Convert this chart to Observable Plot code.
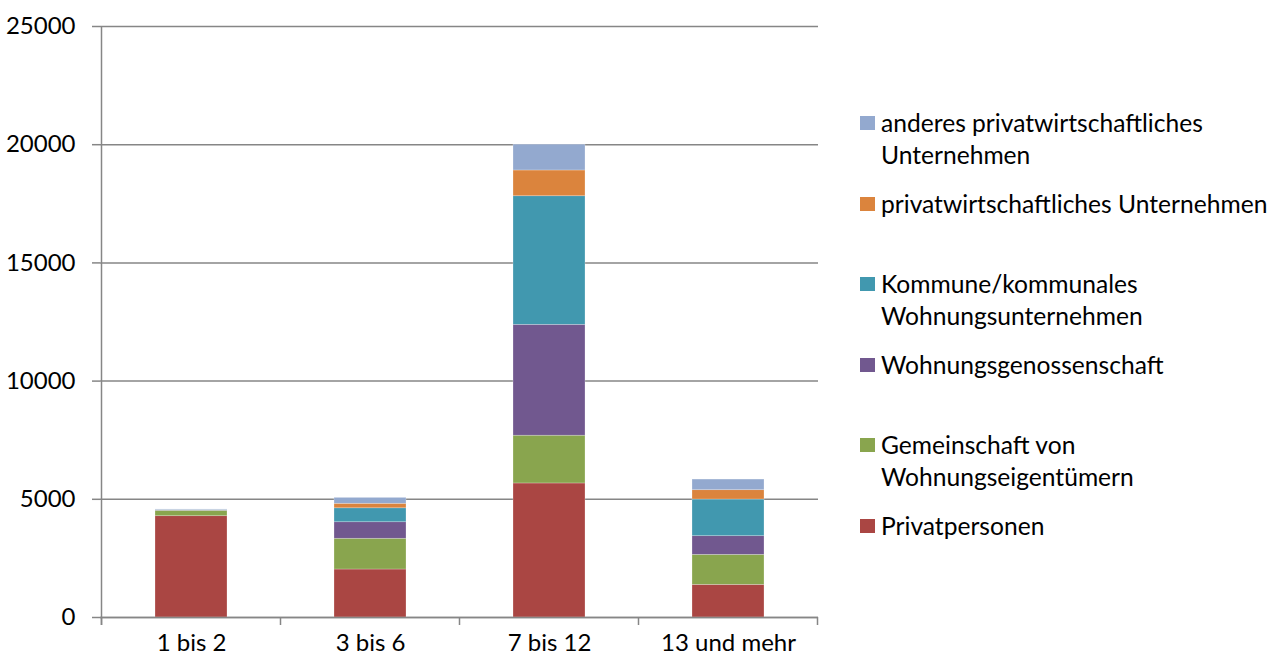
<!DOCTYPE html>
<html>
<head>
<meta charset="utf-8">
<script src="https://cdn.jsdelivr.net/npm/d3@7"></script>
<script src="https://cdn.jsdelivr.net/npm/@observablehq/plot@0.6"></script>
<style>
  html, body { margin: 0; padding: 0; background: #fff; }
  #wrap { position: relative; width: 1276px; height: 663px; font-family: Lato, "Open Sans", sans-serif; }
  #legend { position: absolute; left: 0; top: 0; }
  .entry { position: absolute; left: 860px; display: flex; align-items: flex-start; font-size: 24.6px; line-height: 32px; color: #000; white-space: nowrap; }
  .sw { width: 15px; height: 14px; margin-top: 9px; margin-right: 6px; flex: none; }
</style>
</head>
<body>
<div id="wrap"><div id="legend"></div></div>
<script>
const categories = ["1 bis 2", "3 bis 6", "7 bis 12", "13 und mehr"];
const seriesNames = [
  "Privatpersonen",
  "Gemeinschaft von Wohnungseigentümern",
  "Wohnungsgenossenschaft",
  "Kommune/kommunales Wohnungsunternehmen",
  "privatwirtschaftliches Unternehmen",
  "anderes privatwirtschaftliches Unternehmen"
];
const legendLines = [
  ["Privatpersonen"],
  ["Gemeinschaft von", "Wohnungseigentümern"],
  ["Wohnungsgenossenschaft"],
  ["Kommune/kommunales", "Wohnungsunternehmen"],
  ["privatwirtschaftliches Unternehmen"],
  ["anderes privatwirtschaftliches", "Unternehmen"]
];
const privatpersonen = [4285, 2030, 5670, 1380];
const gemeinschaft = [230, 1300, 2020, 1270];
const genossenschaft = [10, 700, 4690, 790];
const kommune = [10, 590, 5440, 1550];
const privatwirtschaftlich = [5, 190, 1090, 395];
const anderes = [30, 250, 1090, 450];
const seriesValues = [privatpersonen, gemeinschaft, genossenschaft, kommune, privatwirtschaftlich, anderes];
const colors = ["#AA4643", "#89A54E", "#71588F", "#4198AF", "#DB843D", "#93A9CF"];
const yTicks = [0, 5000, 10000, 15000, 20000, 25000];

const data = [];
seriesNames.forEach((s, i) => categories.forEach((c, j) => data.push({cat: c, series: s, value: seriesValues[i][j]})));

const axisColor = "#868686";

// band-edge ticks and left axis line, drawn from the library's scales
function bandEdges(index, scales, values, dimensions) {
  const g = d3.create("svg:g");
  const x = scales.scales.x;
  const y = scales.y;
  const step = x.step;
  const y0 = y(0);
  const edges = categories.map(c => scales.x(c) - (step - x.bandwidth) / 2);
  edges.push(edges[edges.length - 1] + step);
  for (const e of edges) {
    g.append("line").attr("x1", e).attr("x2", e).attr("y1", y0).attr("y2", y0 + 8)
      .attr("stroke", axisColor).attr("stroke-width", 1.5);
  }
  g.append("line").attr("x1", edges[0]).attr("x2", edges[0])
    .attr("y1", y(25000)).attr("y2", y0 + 8)
    .attr("stroke", axisColor).attr("stroke-width", 1.5);
  return g.node();
}

const chart = Plot.plot({
  width: 1276,
  height: 663,
  marginLeft: 100,
  marginRight: 458,
  marginTop: 26,
  marginBottom: 46,
  style: {fontFamily: "Lato, 'Open Sans', sans-serif", fontSize: "24px", color: "#000", background: "#fff"},
  x: {domain: categories, paddingInner: 0.6, paddingOuter: 0.3, label: null},
  y: {domain: [0, 25000], label: null},
  color: {domain: seriesNames, range: colors},
  marks: [
    Plot.gridY(yTicks, {stroke: axisColor, strokeOpacity: 1, strokeWidth: 1.5}),
    Plot.barY(data, {x: "cat", y: "value", fill: "series", order: seriesNames, stroke: "#fff", strokeOpacity: 0.35, strokeWidth: 0.7}),
    Plot.axisY({ticks: yTicks, tickSize: 8, tickPadding: 17, stroke: axisColor, strokeWidth: 1.5, tickFormat: d => String(d), fontSize: 24, fill: "#000"}),
    Plot.axisX({tickSize: 0, tickPadding: 16, fontSize: 24, fill: "#000"}),
    Plot.ruleY([0], {stroke: axisColor, strokeWidth: 1.5}),
    bandEdges
  ]
});
document.getElementById("wrap").prepend(chart);

// legend (top to bottom: reverse of stacking order)
const legend = document.getElementById("legend");
const order = [5, 4, 3, 2, 1, 0];
order.forEach((si, k) => {
  const e = document.createElement("div");
  e.className = "entry";
  e.style.top = (107 + k * 80.5) + "px";
  const sw = document.createElement("div");
  sw.className = "sw";
  sw.style.background = colors[si];
  const t = document.createElement("div");
  t.innerHTML = legendLines[si].join("<br>");
  e.appendChild(sw);
  e.appendChild(t);
  legend.appendChild(e);
});
</script>
</body>
</html>
